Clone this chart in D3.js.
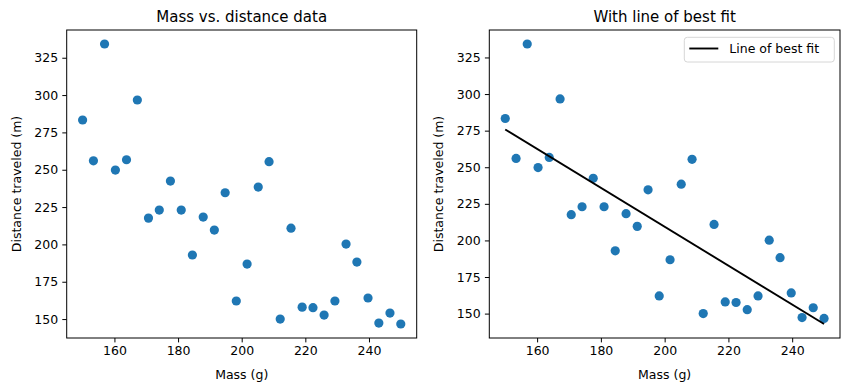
<!DOCTYPE html>
<html>
<head>
<meta charset="utf-8">
<script src="https://cdn.jsdelivr.net/npm/d3@7"></script>
<style>
  body { margin: 0; background: #fff; }
  svg { display: block; font-family: "DejaVu Sans", sans-serif; }
</style>
</head>
<body>
<div id="chart"></div>
<script>
// data
const MASS = [150.0, 153.4, 156.9, 160.3, 163.8, 167.2, 170.7, 174.1, 177.6, 181.0,
              184.5, 187.9, 191.4, 194.8, 198.3, 201.7, 205.2, 208.6, 212.1, 215.5,
              219.0, 222.4, 225.9, 229.3, 232.8, 236.2, 239.7, 243.1, 246.6, 250.0];
const DISTANCE = [283.3, 256.0, 334.2, 249.8, 256.7, 296.7, 217.6, 223.0, 242.4, 223.0,
                  192.9, 218.3, 209.6, 234.6, 162.1, 186.8, 238.4, 255.4, 150.0, 210.9,
                  158.0, 157.6, 152.7, 162.1, 200.2, 188.2, 164.1, 147.3, 154.0, 146.7];
const FIT_MASS = [150, 250];
const FIT_DISTANCE = [275.8, 142.9];
const X_TICKS = [160, 180, 200, 220, 240];
const Y_TICKS = [150, 175, 200, 225, 250, 275, 300, 325];
const TITLES = ["Mass vs. distance data", "With line of best fit"];

const FRAME_WIDTH = 850;
const FRAME_HEIGHT = 391;
const PANELS = [{left: 66.7, right: 416.7}, {left: 489.3, right: 840}];
const TOP = 30, BOTTOM = 338;
const DOT = "#1f77b4";

const FRAME = d3.select("#chart")
  .append("svg")
    .attr("width", FRAME_WIDTH)
    .attr("height", FRAME_HEIGHT);

const points = MASS.map((m, i) => ({mass: m, dist: DISTANCE[i]}));
const fit = FIT_MASS.map((m, i) => ({mass: m, dist: FIT_DISTANCE[i]}));

// matplotlib style 5% margins
function padded(vals) {
  const [lo, hi] = d3.extent(vals);
  const pad = (hi - lo) * 0.05;
  return [lo - pad, hi + pad];
}

function build_panel(idx, withFit) {
  const P = PANELS[idx];
  const g = FRAME.append("g");

  const X_SCALE = d3.scaleLinear()
                    .domain(padded(MASS))
                    .range([P.left, P.right]);
  const yVals = withFit ? DISTANCE.concat(FIT_DISTANCE) : DISTANCE;
  const Y_SCALE = d3.scaleLinear()
                    .domain(padded(yVals))
                    .range([BOTTOM, TOP]);

  // points
  g.selectAll(".dot")
    .data(points)
    .enter()
    .append("circle")
      .attr("cx", d => X_SCALE(d.mass))
      .attr("cy", d => Y_SCALE(d.dist))
      .attr("r", 4.6)
      .attr("fill", DOT);

  if (withFit) {
    g.append("path")
      .datum(fit)
      .attr("d", d3.line().x(d => X_SCALE(d.mass)).y(d => Y_SCALE(d.dist)))
      .attr("fill", "none")
      .attr("stroke", "#000")
      .attr("stroke-width", 1.9);
  }

  // axes
  const xAxis = g.append("g")
    .attr("transform", "translate(0," + BOTTOM + ")")
    .call(d3.axisBottom(X_SCALE).tickValues(X_TICKS).tickSize(4.4).tickPadding(4.2));
  const yAxis = g.append("g")
    .attr("transform", "translate(" + P.left + ",0)")
    .call(d3.axisLeft(Y_SCALE).tickValues(Y_TICKS).tickSize(4.4).tickPadding(4.2));

  [xAxis, yAxis].forEach(a => {
    a.select(".domain").remove();
    a.selectAll("line").attr("stroke", "#000").attr("stroke-width", 1);
    a.selectAll("text")
      .attr("font-family", "DejaVu Sans")
      .attr("font-size", "12.5px")
      .attr("fill", "#000");
  });

  // frame
  g.append("rect")
    .attr("x", P.left)
    .attr("y", TOP)
    .attr("width", P.right - P.left)
    .attr("height", BOTTOM - TOP)
    .attr("fill", "none")
    .attr("stroke", "#000")
    .attr("stroke-width", 1);

  const cx = (P.left + P.right) / 2;
  g.append("text")
    .attr("x", cx)
    .attr("y", 22)
    .attr("text-anchor", "middle")
    .attr("font-size", "15px")
    .text(TITLES[idx]);

  g.append("text")
    .attr("x", cx)
    .attr("y", 378.5)
    .attr("text-anchor", "middle")
    .attr("font-size", "12.5px")
    .text("Mass (g)");

  g.append("text")
    .attr("transform", "translate(" + (P.left - 46) + "," + ((TOP + BOTTOM) / 2) + ") rotate(-90)")
    .attr("text-anchor", "middle")
    .attr("font-size", "12.5px")
    .text("Distance traveled (m)");

  if (withFit) {
    const L = {x: 684.3, y: 37.3, w: 150, h: 24.7};
    g.append("rect")
      .attr("x", L.x).attr("y", L.y)
      .attr("width", L.w).attr("height", L.h)
      .attr("rx", 3)
      .attr("fill", "#fff")
      .attr("fill-opacity", 0.8)
      .attr("stroke", "#d6d6d6")
      .attr("stroke-width", 1);
    g.append("line")
      .attr("x1", L.x + 5).attr("x2", L.x + 34)
      .attr("y1", 48.5).attr("y2", 48.5)
      .attr("stroke", "#000")
      .attr("stroke-width", 1.9);
    g.append("text")
      .attr("x", L.x + 45)
      .attr("y", 53.2)
      .attr("font-size", "12.5px")
      .text("Line of best fit");
  }
}

build_panel(0, false);
build_panel(1, true);
</script>
</body>
</html>
